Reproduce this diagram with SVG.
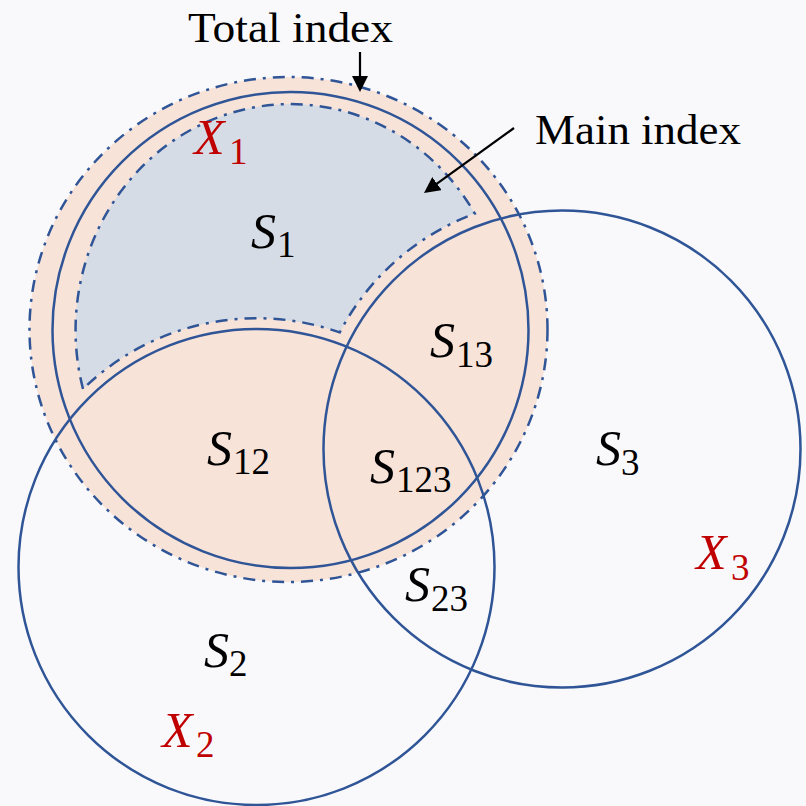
<svg xmlns="http://www.w3.org/2000/svg" width="806" height="806" viewBox="0 0 806 806">
  <style>
    .solid { fill: none; stroke: #2F5597; stroke-width: 2.5; }
    .dd { stroke: #2F5597; stroke-width: 2.5; stroke-dasharray: 12 7 3 7; }
    .lbl { font-family: "Liberation Serif", "Times New Roman", serif; font-size: 43px; fill: #000; }
    .m { font-family: "Liberation Serif", "Times New Roman", serif; font-size: 50px; fill: #000; }
    .m .i { font-style: italic; }
    .m .sub { font-size: 37px; font-style: normal; }
    .red { fill: #C00000; }
    .arrow { stroke: #000; stroke-width: 2.2; fill: none; }
  </style>
  <defs>
    <marker id="ah" viewBox="0 0 16 16" refX="6" refY="8" markerWidth="16" markerHeight="16" markerUnits="userSpaceOnUse" orient="auto">
      <path d="M0,0 L16,8 L0,16 Z" fill="#000"/>
    </marker>
  </defs>
  <rect x="0" y="0" width="806" height="806" fill="#F9F9FC"/>

  <g id="total-index">
    <ellipse cx="288.5" cy="329.5" rx="259" ry="252.5" fill="#F8E3D9" class="dd"/>
  </g>
  <g id="main-index">
    <path d="M83,389 A215,226 0 0 1 474.8,213.6 A251,251 0 0 0 339.7,332.4 A249,249 0 0 0 83,389 Z" fill="#D6DCE5" class="dd"/>
  </g>
  <g id="set-X1">
    <circle cx="290.5" cy="330" r="238" class="solid"/>
  </g>
  <g id="set-X2">
    <circle cx="256.5" cy="567" r="238" class="solid"/>
  </g>
  <g id="set-X3">
    <circle cx="562" cy="449" r="238.5" class="solid"/>
  </g>

  <g id="labels">
    <text class="m red"><tspan class="i" x="194" y="154">X</tspan><tspan class="sub" x="229" y="164">1</tspan></text>
    <text class="m red"><tspan class="i" x="162" y="747">X</tspan><tspan class="sub" x="196" y="757">2</tspan></text>
    <text class="m red"><tspan class="i" x="696" y="569">X</tspan><tspan class="sub" x="731" y="580">3</tspan></text>
    <text class="m"><tspan class="i" x="251" y="248">S</tspan><tspan class="sub" x="277" y="257">1</tspan></text>
    <text class="m"><tspan class="i" x="430" y="357">S</tspan><tspan class="sub" x="456" y="367">13</tspan></text>
    <text class="m"><tspan class="i" x="207" y="465">S</tspan><tspan class="sub" x="233" y="474">12</tspan></text>
    <text class="m"><tspan class="i" x="370" y="483">S</tspan><tspan class="sub" x="396" y="492">123</tspan></text>
    <text class="m"><tspan class="i" x="405" y="601">S</tspan><tspan class="sub" x="431" y="611">23</tspan></text>
    <text class="m"><tspan class="i" x="596" y="465">S</tspan><tspan class="sub" x="621" y="475">3</tspan></text>
    <text class="m"><tspan class="i" x="204" y="667">S</tspan><tspan class="sub" x="229" y="676">2</tspan></text>
    <text class="lbl" x="188" y="42" textLength="205" lengthAdjust="spacingAndGlyphs">Total index</text>
    <text class="lbl" x="535" y="144" textLength="206" lengthAdjust="spacingAndGlyphs">Main index</text>
  </g>

  <g id="connectors">
    <path d="M360,52 L360,82" class="arrow" marker-end="url(#ah)"/>
    <path d="M514,128 L432.1,187.1" class="arrow" marker-end="url(#ah)"/>
  </g>
</svg>
